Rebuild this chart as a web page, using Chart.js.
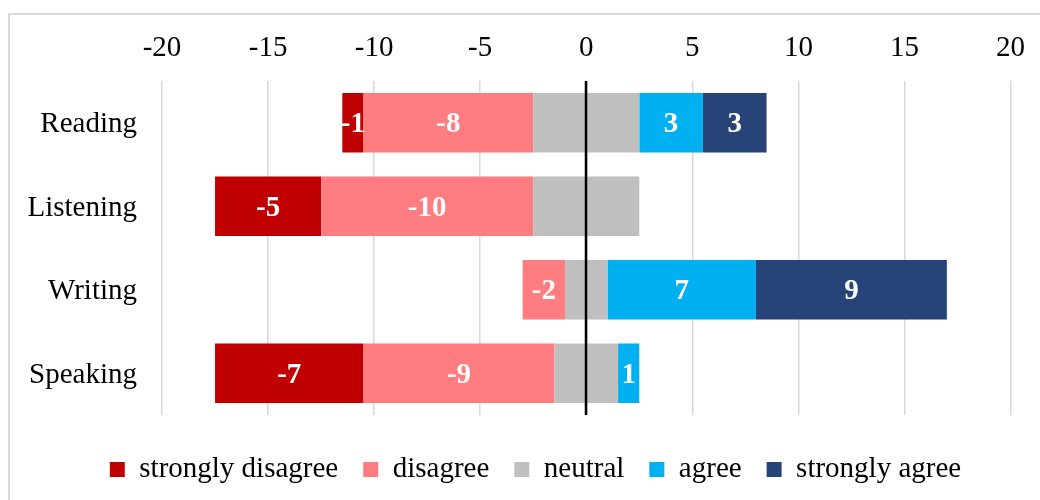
<!DOCTYPE html>
<html>
<head>
<meta charset="utf-8">
<script src="https://cdn.jsdelivr.net/npm/chart.js@4.4.1/dist/chart.umd.min.js"></script>
<style>
  html, body { margin: 0; padding: 0; background: #fff; }
  #wrap { position: relative; width: 1040px; height: 500px; overflow: hidden; }
  #frame { position: absolute; left: 8px; top: 13px; width: 1100px; height: 600px; border: 2px solid #d9d9d9; box-sizing: border-box; }
  canvas { position: absolute; left: 0; top: 0; }
</style>
</head>
<body>
<div id="wrap">
  <div id="frame"></div>
  <canvas id="c" width="1040" height="500"></canvas>
</div>
<script>
const categories = ['Reading', 'Listening', 'Writing', 'Speaking'];
const stronglyDisagree = [-1, -5, 0, -7];
const disagree = [-8, -10, -2, -9];
const neutral = [5, 5, 2, 3];
const agree = [3, 0, 7, 1];
const stronglyAgree = [3, 0, 9, 0];
const tickMin = -20, tickMax = 20, tickStep = 5;

const FONT = '"Liberation Serif", "Times New Roman", serif';
const FS = 29;
const colors = {
  sd: '#C00000', d: '#FF7C80', n: '#BFBFBF', a: '#00B0F0', sa: '#264478'
};

// Stacking order outward from zero; legend order restored via sort.
const datasets = [
  { label: 'neutral', data: neutral.map(v => -v / 2), backgroundColor: colors.n, legendOrder: 2, showLabel: false },
  { label: 'disagree', data: disagree, backgroundColor: colors.d, legendOrder: 1, showLabel: true },
  { label: 'strongly disagree', data: stronglyDisagree, backgroundColor: colors.sd, legendOrder: 0, showLabel: true },
  { label: 'neutral', data: neutral.map(v => v / 2), backgroundColor: colors.n, legendOrder: 99, hideLegend: true, showLabel: false },
  { label: 'agree', data: agree, backgroundColor: colors.a, legendOrder: 3, showLabel: true },
  { label: 'strongly agree', data: stronglyAgree, backgroundColor: colors.sa, legendOrder: 4, showLabel: true }
];
datasets.forEach(ds => { ds.borderWidth = 0; ds.barPercentage = 0.71; ds.categoryPercentage = 1.0; });

const labelPlugin = {
  id: 'barLabels',
  afterLayout(chart) {
    // shift the centred legend slightly right, as in the reference
    if (chart.legend) chart.legend.left += 48;
  },
  afterDatasetsDraw(chart) {
    const ctx = chart.ctx;
    ctx.save();
    const x = chart.scales.x;
    const a = chart.chartArea;
    const zx = Math.round(x.getPixelForValue(0));
    ctx.strokeStyle = '#000';
    ctx.lineWidth = 2.5;
    ctx.beginPath();
    ctx.moveTo(zx, a.top);
    ctx.lineTo(zx, a.bottom);
    ctx.stroke();
    ctx.fillStyle = '#fff';
    ctx.font = 'bold ' + FS + 'px ' + FONT;
    ctx.textAlign = 'center';
    ctx.textBaseline = 'middle';
    chart.data.datasets.forEach((ds, i) => {
      if (!ds.showLabel) return;
      const meta = chart.getDatasetMeta(i);
      meta.data.forEach((bar, j) => {
        const v = ds.data[j];
        if (!v) return;
        const cx = (bar.x + bar.base) / 2;
        ctx.fillText(String(v), cx, bar.y + 2);
      });
    });
    ctx.restore();
  }
};

new Chart(document.getElementById('c'), {
  type: 'bar',
  data: { labels: categories, datasets },
  plugins: [labelPlugin],
  options: {
    indexAxis: 'y',
    responsive: false,
    animation: false,
    layout: { padding: { left: 0, right: 17, top: 0, bottom: 6 } },
    scales: {
      x: {
        position: 'top',
        stacked: true,
        min: tickMin,
        max: tickMax,
        ticks: { stepSize: tickStep, color: '#000', font: { family: FONT, size: FS }, padding: 15 },
        grid: { color: '#d9d9d9', lineWidth: 1.5, drawTicks: false },
        border: { display: false },
        afterFit(s) { s.height = 81; }
      },
      y: {
        stacked: true,
        ticks: { color: '#000', font: { family: FONT, size: FS }, padding: 25, labelOffset: 2 },
        grid: { display: false, drawTicks: false },
        border: { display: false },
        afterFit(s) { s.width = 162; }
      }
    },
    plugins: {
      tooltip: { enabled: false },
      title: { display: true, text: '', position: 'bottom', weight: 500, padding: 0, font: { size: 15, lineHeight: 1 } },
      legend: {
        position: 'bottom',
        labels: {
          color: '#000',
          font: { family: FONT, size: FS },
          boxWidth: 15,
          boxHeight: 15,
          padding: 25,
          filter: (item, data) => !data.datasets[item.datasetIndex].hideLegend,
          sort: (a, b, data) => data.datasets[a.datasetIndex].legendOrder - data.datasets[b.datasetIndex].legendOrder
        }
      }
    }
  }
});
</script>
</body>
</html>
